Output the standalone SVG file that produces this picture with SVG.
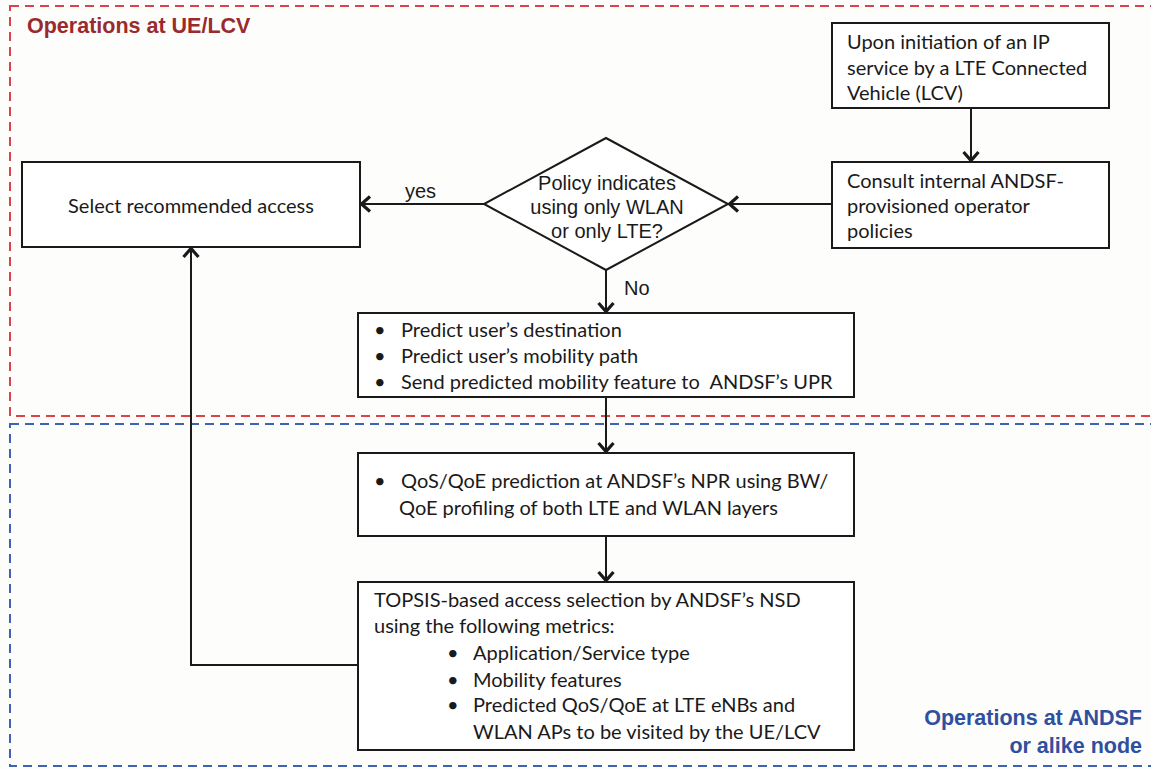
<svg xmlns="http://www.w3.org/2000/svg" width="1151" height="770" viewBox="0 0 1151 770">
<defs>
<style>
.box{fill:#fff;stroke:#1a1a1a;stroke-width:2}
.t{font-family:Lato,"Liberation Sans",sans-serif;font-size:20px;fill:#1a1a1a;white-space:pre}
.a{font-family:"Liberation Sans",Arial,sans-serif;font-size:20px;fill:#1a1a1a}
.conn{fill:none;stroke:#1a1a1a;stroke-width:2}
.h1{font-family:"Liberation Sans",Arial,sans-serif;font-size:21.5px;font-weight:bold}
</style>
<marker id="arr" markerUnits="userSpaceOnUse" markerWidth="20" markerHeight="20" viewBox="0 0 20 20" refX="17" refY="10" orient="auto">
<path d="M8,2.5 L16.5,10 L8,17.5" fill="none" stroke="#1a1a1a" stroke-width="3.2"/>
</marker>
</defs>
<rect width="1151" height="770" fill="#fdfdfb"/>
<g id="zone-ue">
<rect x="10" y="6" width="1160" height="410" fill="none" stroke="#d8434c" stroke-width="2" stroke-dasharray="9,6"/>
<text class="h1" x="27" y="33" fill="#9a2a2e">Operations at UE/LCV</text>
</g>
<g id="zone-andsf">
<rect x="10" y="424" width="1160" height="342" fill="none" stroke="#4062b4" stroke-width="2" stroke-dasharray="9,6"/>
<text class="h1" x="1142" y="725" fill="#2f4f9f" text-anchor="end">Operations at ANDSF</text>
<text class="h1" x="1142" y="753" fill="#2f4f9f" text-anchor="end">or alike node</text>
</g>
<g id="connectors">
<line class="conn" x1="971" y1="108" x2="971" y2="161" marker-end="url(#arr)"/>
<line class="conn" x1="832" y1="204" x2="729" y2="204" marker-end="url(#arr)"/>
<line class="conn" x1="484" y1="204" x2="361" y2="204" marker-end="url(#arr)"/>
<text class="a" x="405" y="198">yes</text>
<line class="conn" x1="606" y1="270" x2="606" y2="312" marker-end="url(#arr)"/>
<text class="a" x="624" y="295">No</text>
<line class="conn" x1="606" y1="397" x2="606" y2="452" marker-end="url(#arr)"/>
<line class="conn" x1="606" y1="536" x2="606" y2="581" marker-end="url(#arr)"/>
<polyline class="conn" points="358,665 191,665 191,248" marker-end="url(#arr)"/>
</g>
<g id="n-init">
<rect class="box" x="832" y="23" width="277" height="85"/>
<text class="t" x="847" y="49">Upon initiation of an IP</text>
<text class="t" x="847" y="75">service by a LTE Connected</text>
<text class="t" x="847" y="100">Vehicle (LCV)</text>
</g>
<g id="n-consult">
<rect class="box" x="832" y="162" width="277" height="86"/>
<text class="t" x="847" y="188">Consult internal ANDSF-</text>
<text class="t" x="847" y="213">provisioned operator</text>
<text class="t" x="847" y="238">policies</text>
</g>
<g id="n-policy">
<polygon class="box" points="606,138 728,204 606,270 484,204"/>
<text class="a" x="607" y="190" text-anchor="middle">Policy indicates</text>
<text class="a" x="607" y="214" text-anchor="middle">using only WLAN</text>
<text class="a" x="607" y="238" text-anchor="middle">or only LTE?</text>
</g>
<g id="n-select">
<rect class="box" x="22" y="162" width="338" height="85"/>
<text class="t" x="191" y="213" text-anchor="middle">Select recommended access</text>
</g>
<g id="n-predict">
<rect class="box" x="358" y="313" width="496" height="84"/>
<text class="t" x="374" y="337">•</text><text class="t" x="401" y="337">Predict user’s destination</text>
<text class="t" x="374" y="363">•</text><text class="t" x="401" y="363">Predict user’s mobility path</text>
<text class="t" x="374" y="389">•</text><text class="t" x="401" y="389">Send predicted mobility feature to  ANDSF’s UPR</text>
</g>
<g id="n-qos">
<rect class="box" x="358" y="453" width="496" height="83"/>
<text class="t" x="374" y="488">•</text><text class="t" x="401" y="488">QoS/QoE prediction at ANDSF’s NPR using BW/</text>
<text class="t" x="399" y="515">QoE profiling of both LTE and WLAN layers</text>
</g>
<g id="n-topsis">
<rect class="box" x="358" y="582" width="496" height="168"/>
<text class="t" x="374" y="607">TOPSIS-based access selection by ANDSF’s NSD</text>
<text class="t" x="374" y="633">using the following metrics:</text>
<text class="t" x="447" y="660">•</text><text class="t" x="473" y="660">Application/Service type</text>
<text class="t" x="447" y="687">•</text><text class="t" x="473" y="687">Mobility features</text>
<text class="t" x="447" y="712">•</text><text class="t" x="473" y="712">Predicted QoS/QoE at LTE eNBs and</text>
<text class="t" x="473" y="739">WLAN APs to be visited by the UE/LCV</text>
</g>
</svg>
